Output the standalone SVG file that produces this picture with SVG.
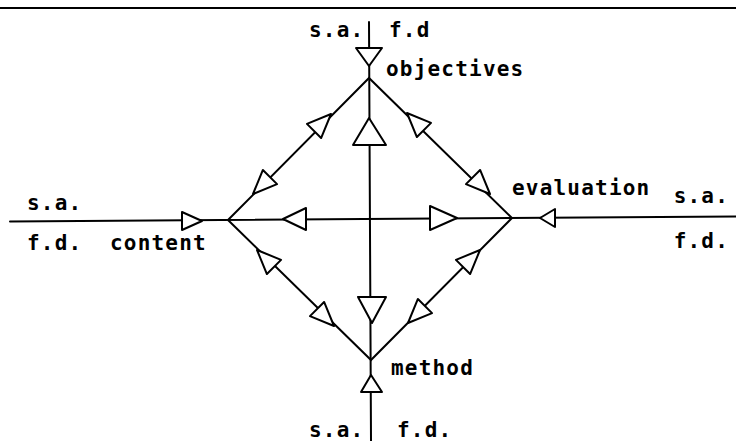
<svg xmlns="http://www.w3.org/2000/svg" width="736" height="441" viewBox="0 0 736 441">
<style>
  .ln { stroke: #000; stroke-width: 2; fill: none; stroke-linecap: round; }
  .ah { stroke: #000; stroke-width: 2; fill: #fff; stroke-linejoin: round; }
  text { font-family: "DejaVu Sans Mono", "Liberation Mono", monospace; font-size: 21px; font-weight: bold; letter-spacing: 1.2px; fill: #000; }
  .end { text-anchor: end; }
</style>
<defs>
  <path id="dtri" d="M0,0 L-24,-10 L-24,10 Z"/>
</defs>
<rect width="736" height="441" fill="#fff"/>
<g id="connectors">
  <line class="ln" x1="0" y1="8" x2="736" y2="8"/>
  <line class="ln" x1="369" y1="22" x2="371" y2="441"/>
  <line class="ln" x1="10" y1="221.5" x2="736" y2="216.5"/>
  <polyline class="ln" points="228,220 369,78 512,218 371,360 228,220"/>
  <!-- axis arrowheads -->
  <polygon class="ah" points="356,48 382,48 369,66"/>
  <polygon class="ah" points="353,145 386,145 369,118"/>
  <polygon class="ah" points="358,297 386,297 372,323"/>
  <polygon class="ah" points="361,392 382,392 371,375"/>
  <polygon class="ah" points="182,212 182,230 202,221"/>
  <polygon class="ah" points="306,208 306,230 283,219"/>
  <polygon class="ah" points="430,206 430,230 457,218"/>
  <polygon class="ah" points="555,209 555,227 540,218"/>
  <!-- diagonal arrowheads -->
  <use href="#dtri" class="ah" transform="translate(331,114) rotate(-45)"/>
  <use href="#dtri" class="ah" transform="translate(253,194) rotate(135)"/>
  <use href="#dtri" class="ah" transform="translate(407,113) rotate(-135)"/>
  <use href="#dtri" class="ah" transform="translate(490,194) rotate(45)"/>
  <use href="#dtri" class="ah" transform="translate(257,250) rotate(-135)"/>
  <use href="#dtri" class="ah" transform="translate(334,326) rotate(45)"/>
  <use href="#dtri" class="ah" transform="translate(480,250) rotate(-45)"/>
  <use href="#dtri" class="ah" transform="translate(408,323) rotate(135)"/>
</g>
<g id="objectives"><text x="386" y="76">objectives</text></g>
<g id="content"><text x="110" y="250">content</text></g>
<g id="evaluation"><text x="512" y="195">evaluation</text></g>
<g id="method"><text x="391" y="375">method</text></g>
<g id="labels">
  <text x="309" y="37">s.a.</text>
  <text x="389" y="37">f.d</text>
  <text x="27" y="210">s.a.</text>
  <text x="27" y="250">f.d.</text>
  <text class="end" x="729" y="203">s.a.</text>
  <text class="end" x="729" y="248">f.d.</text>
  <text x="309" y="437">s.a.</text>
  <text x="397" y="437">f.d.</text>
</g>
</svg>
